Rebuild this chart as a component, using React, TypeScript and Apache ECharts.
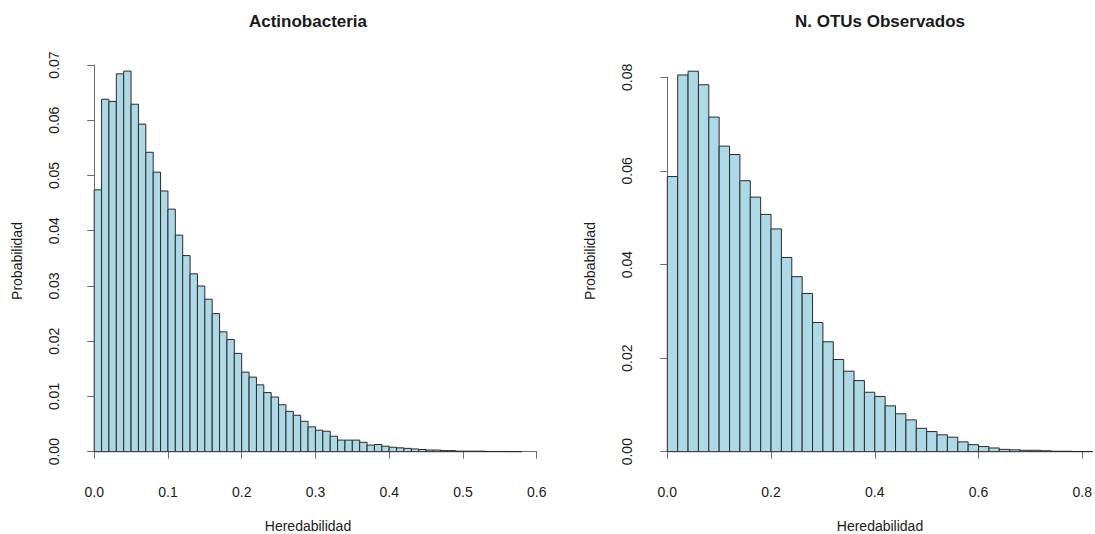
import React, { useEffect, useRef } from "react";
import * as echarts from "echarts";

// Left histogram: Actinobacteria (bin width 0.01, from 0.00 to 0.58)
const actinoBinWidth = 0.01;
const actinoProb = [
  0.0474, 0.0638, 0.0634, 0.0684, 0.0689, 0.0629, 0.0593, 0.0542, 0.0506, 0.0472,
  0.0439, 0.0392, 0.0355, 0.0322, 0.0300, 0.0276, 0.0250, 0.0217, 0.0203, 0.0178,
  0.0144, 0.0135, 0.0121, 0.0107, 0.0099, 0.0085, 0.0073, 0.0066, 0.0055, 0.0045,
  0.0039, 0.0037, 0.0028, 0.0021, 0.0021, 0.0021, 0.0017, 0.0012, 0.0013, 0.0010,
  0.0008, 0.0007, 0.0006, 0.0005, 0.0004, 0.0003, 0.0003, 0.0002, 0.0002, 0.0001,
  0.0001, 0.0001, 0.0001, 0.00005, 0.00005, 0.00005, 0.00003, 0.00003,
];

// Right histogram: N. OTUs Observados (bin width 0.02, from 0.00 to 0.82)
const otuBinWidth = 0.02;
const otuProb = [
  0.0588, 0.0805, 0.0813, 0.0784, 0.0715, 0.0653, 0.0635, 0.0579, 0.0544, 0.0507,
  0.0476, 0.0415, 0.0374, 0.0338, 0.0276, 0.0235, 0.0197, 0.0172, 0.0152, 0.0127,
  0.0118, 0.0098, 0.0081, 0.0068, 0.0050, 0.0043, 0.0036, 0.0031, 0.0021, 0.0015,
  0.0011, 0.0008, 0.0005, 0.0004, 0.0003, 0.0003, 0.0002, 0.0001, 0.0001, 0.00005,
  0.00005,
];

const titles = ["Actinobacteria", "N. OTUs Observados"];
const xAxisTitle = "Heredabilidad";
const yAxisTitle = "Probabilidad";

const FONT = "'Liberation Sans', Arial, Helvetica, sans-serif";
const AXIS_COLOR = "#6e6e6e";
const TEXT_COLOR = "#1a1a1a";

function toBins(values: number[], width: number) {
  return values.map((v, i) => [i * width, (i + 1) * width, v]);
}

function renderBar(params: any, api: any) {
  const x0 = api.value(0);
  const x1 = api.value(1);
  const y = api.value(2);
  const p0 = api.coord([x0, y]);
  const p1 = api.coord([x1, 0]);
  return {
    type: "rect",
    shape: { x: p0[0], y: p0[1], width: p1[0] - p0[0], height: p1[1] - p0[1] },
    style: { fill: "#ADD8E6", stroke: "#2b2b2b", lineWidth: 1 },
  };
}

function xAxisCfg(gridIndex: number, max: number, interval: number) {
  return {
    type: "value",
    gridIndex,
    min: 0,
    max,
    interval,
    offset: 15.5,
    axisLine: { show: true, lineStyle: { color: AXIS_COLOR, width: 1 } },
    axisTick: { show: true, length: 7, lineStyle: { color: AXIS_COLOR } },
    axisLabel: {
      fontFamily: FONT,
      fontSize: 14,
      color: TEXT_COLOR,
      margin: 18,
      formatter: (v: number) => v.toFixed(1),
    },
    splitLine: { show: false },
  };
}

function yAxisCfg(gridIndex: number, max: number, interval: number) {
  return {
    type: "value",
    gridIndex,
    min: 0,
    max,
    interval,
    offset: 17.2,
    axisLine: { show: true, lineStyle: { color: AXIS_COLOR, width: 1 } },
    axisTick: { show: true, length: 7, lineStyle: { color: AXIS_COLOR } },
    axisLabel: {
      fontFamily: FONT,
      fontSize: 14,
      color: TEXT_COLOR,
      rotate: 90,
      margin: 16,
      formatter: (v: number) => v.toFixed(2),
    },
    splitLine: { show: false },
  };
}

function textEl(text: string, x: number, y: number, size: number, bold = false, rotation = 0) {
  return {
    type: "text",
    x,
    y,
    rotation,
    style: {
      text,
      fill: TEXT_COLOR,
      font: `${bold ? "bold " : ""}${size}px ${FONT}`,
      textAlign: "center",
      textVerticalAlign: "middle",
    },
  };
}

export default function App() {
  const ref = useRef<HTMLDivElement>(null);

  useEffect(() => {
    document.body.style.margin = "0";
    if (!ref.current) return;
    const chart = echarts.init(ref.current, null, { renderer: "svg" });
    chart.setOption({
      animation: false,
      backgroundColor: "#ffffff",
      grid: [
        { left: 94.2, right: 558.3, top: 65, bottom: 82.3 },
        { left: 667.3, right: 11.7, top: 77.3, bottom: 82.3 },
      ],
      xAxis: [xAxisCfg(0, 0.6, 0.1), xAxisCfg(1, 0.8, 0.2)],
      yAxis: [yAxisCfg(0, 0.07, 0.01), yAxisCfg(1, 0.08, 0.02)],
      series: [
        {
          type: "custom",
          xAxisIndex: 0,
          yAxisIndex: 0,
          clip: false,
          renderItem: renderBar,
          encode: { x: [0, 1], y: 2 },
          data: toBins(actinoProb, actinoBinWidth),
        },
        {
          type: "custom",
          xAxisIndex: 1,
          yAxisIndex: 1,
          clip: false,
          renderItem: renderBar,
          encode: { x: [0, 1], y: 2 },
          data: toBins(otuProb, otuBinWidth),
        },
      ],
      graphic: [
        textEl(titles[0], 308, 21, 17, true),
        textEl(titles[1], 880, 21, 17, true),
        textEl(xAxisTitle, 308, 526, 14),
        textEl(xAxisTitle, 880, 526, 14),
        textEl(yAxisTitle, 17, 261, 14, false, Math.PI / 2),
        textEl(yAxisTitle, 590, 261, 14, false, Math.PI / 2),
      ],
    });
    return () => chart.dispose();
  }, []);

  return <div ref={ref} style={{ width: 1095, height: 534 }} />;
}
